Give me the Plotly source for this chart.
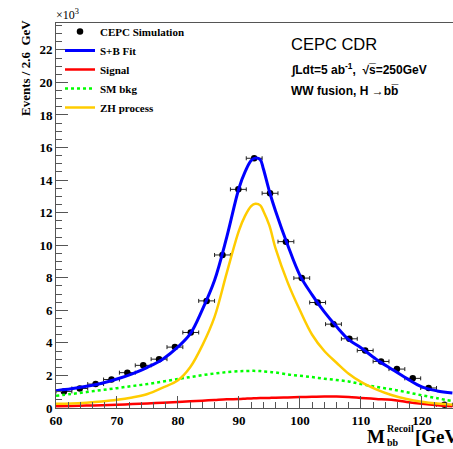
import plotly.graph_objects as go

# Recoil mass bins (GeV) and simulated event counts (x10^3 per 2.6 GeV)
bin_centers = [61.3, 63.9, 66.5, 69.1, 71.7, 74.3, 76.9, 79.5, 82.1, 84.7,
               87.3, 89.9, 92.5, 95.1, 97.7, 100.3, 102.9, 105.5, 108.1, 110.7,
               113.3, 115.9, 118.5, 121.1, 123.7]
sim_events = [1.02, 1.20, 1.47, 1.75, 2.17, 2.62, 3.00, 3.74, 4.64, 6.58,
              9.40, 13.43, 15.34, 13.19, 10.22, 7.98, 6.48, 5.15, 4.25, 3.53,
              2.86, 2.39, 1.82, 1.23, 0.20]
bin_half_width = 1.3

# Fit components sampled along the recoil mass axis
fit_mass = [60, 62.5, 65, 67.5, 70, 72.5, 75, 77.5, 80, 82, 84, 86, 88, 90, 91,
            92, 92.7, 93.5, 94, 95, 96, 98, 100, 102, 104, 106, 108, 110, 112.5,
            115, 117.5, 120, 122.5, 125]
sb_fit = [1.06, 1.18, 1.33, 1.52, 1.78, 2.10, 2.50, 3.00, 3.75, 4.55, 6.05, 7.85,
          10.5, 13.5, 14.5, 15.2, 15.35, 15.25, 14.7, 13.3, 12.1, 10.0, 8.15, 6.95,
          5.9, 5.0, 4.2, 3.7, 3.0, 2.4, 1.82, 1.30, 1.05, 0.92]
zh_process = [0.26, 0.28, 0.33, 0.40, 0.50, 0.65, 0.86, 1.25, 1.70, 2.50, 3.85,
              5.60, 8.30, 10.9, 11.8, 12.4, 12.55, 12.45, 12.1, 11.2, 9.8, 7.7,
              6.0, 4.5, 3.5, 2.78, 2.10, 1.60, 1.15, 0.80, 0.55, 0.38, 0.27, 0.20]
sm_bkg = [0.75, 0.86, 0.98, 1.10, 1.22, 1.35, 1.47, 1.62, 1.78, 1.90, 2.02, 2.12,
          2.20, 2.26, 2.27, 2.28, 2.28, 2.27, 2.25, 2.22, 2.18, 2.06, 1.98, 1.90,
          1.80, 1.72, 1.63, 1.47, 1.30, 1.15, 0.97, 0.78, 0.60, 0.42]
signal = [0.10, 0.12, 0.15, 0.17, 0.20, 0.24, 0.28, 0.32, 0.37, 0.41, 0.45, 0.49,
          0.53, 0.55, 0.57, 0.59, 0.60, 0.61, 0.61, 0.62, 0.63, 0.65, 0.67, 0.69,
          0.71, 0.70, 0.67, 0.62, 0.56, 0.50, 0.37, 0.26, 0.17, 0.10]

W, H = 453, 449
ML, MR, MT, MB = 56, 0, 23, 41
PW, PH = W - ML - MR, H - MT - MB


def px(x):
    return (x - ML) / PW


def py(y):
    return (H - MB - y) / PH


serif = "Liberation Serif"
sans = "Liberation Sans"

fig = go.Figure()

fig.add_trace(go.Scatter(
    x=bin_centers, y=sim_events, mode="markers", name="CEPC Simulation",
    marker=dict(color="black", size=6.5),
    error_x=dict(type="constant", value=bin_half_width, color="#222222",
                 thickness=1, width=2),
))
fig.add_trace(go.Scatter(
    x=fit_mass, y=sb_fit, mode="lines", name="S+B Fit",
    line=dict(color="#0000ff", width=3, shape="spline", smoothing=1.0),
))
fig.add_trace(go.Scatter(
    x=fit_mass, y=signal, mode="lines", name="Signal",
    line=dict(color="#ff0000", width=2.5, shape="spline", smoothing=1.0),
))
fig.add_trace(go.Scatter(
    x=fit_mass, y=sm_bkg, mode="lines", name="SM bkg",
    line=dict(color="#00ff00", width=2.5, dash="dot", shape="spline", smoothing=1.0),
))
fig.add_trace(go.Scatter(
    x=fit_mass, y=zh_process, mode="lines", name="ZH process",
    line=dict(color="#ffcc00", width=2.5, shape="spline", smoothing=1.0),
))

axis_font = dict(family=serif, size=13, color="black", weight="bold")


def label(x, y, text, font, xanchor="left", **kw):
    return dict(x=px(x), y=py(y), xref="paper", yref="paper", text=text,
                showarrow=False, xanchor=xanchor, yanchor="middle", font=font,
                borderpad=0, **kw)


annotations = [
    # y-axis scale factor
    label(55, 15, "×10<sup>3</sup>", dict(family=serif, size=12, color="black")),
    # y-axis title
    label(25, 68, "Events / 2.6  GeV", axis_font, xanchor="center", textangle=-90),
    # x-axis title pieces
    label(386, 437, "M", dict(family=serif, size=19, color="black", weight="bold"),
          xanchor="right"),
    label(386, 429, "Recoil", dict(family=serif, size=10, color="black", weight="bold")),
    label(386, 442, "bb", dict(family=serif, size=10, color="black", weight="bold")),
    label(414, 437, "[GeV]", dict(family=serif, size=19, color="black", weight="bold")),
    # experiment labels
    label(290, 44, "CEPC CDR", dict(family=sans, size=16.5, color="black")),
    label(290, 69, "∫Ldt=5 ab<sup>-1</sup>,  √s\u0305=250GeV",
          dict(family=sans, size=12, color="black", weight="bold")),
    label(290, 91, "WW fusion, H →bb\u0305",
          dict(family=sans, size=12, color="black", weight="bold")),
]

fig.update_layout(
    width=W, height=H,
    margin=dict(l=ML, r=MR, t=MT, b=MB),
    paper_bgcolor="white", plot_bgcolor="white",
    showlegend=True,
    legend=dict(x=px(60), y=py(17), xanchor="left", yanchor="top",
                bgcolor="rgba(0,0,0,0)",
                font=dict(family=serif, size=11, color="black", weight="bold"),
                tracegroupgap=0),
    annotations=annotations,
    xaxis=dict(
        range=[60, 125.1], showgrid=False, zeroline=False,
        showline=True, linecolor="#555555", linewidth=1, mirror=True,
        ticks="inside", ticklen=12, tickcolor="#555555", tickwidth=1,
        tick0=60, dtick=10, tickfont=axis_font, ticklabelstandoff=0,
        minor=dict(ticks="inside", ticklen=6, dtick=2, tickcolor="#555555",
                   showgrid=False),
    ),
    yaxis=dict(
        range=[0, 23.65], showgrid=False, zeroline=False,
        showline=True, linecolor="#555555", linewidth=1,
        ticks="inside", ticklen=12, tickcolor="#555555", tickwidth=1,
        tick0=0, dtick=2, tickfont=axis_font,
        minor=dict(ticks="inside", ticklen=6, dtick=0.5, tickcolor="#555555",
                   showgrid=False),
    ),
)

fig.write_html("out.html")
